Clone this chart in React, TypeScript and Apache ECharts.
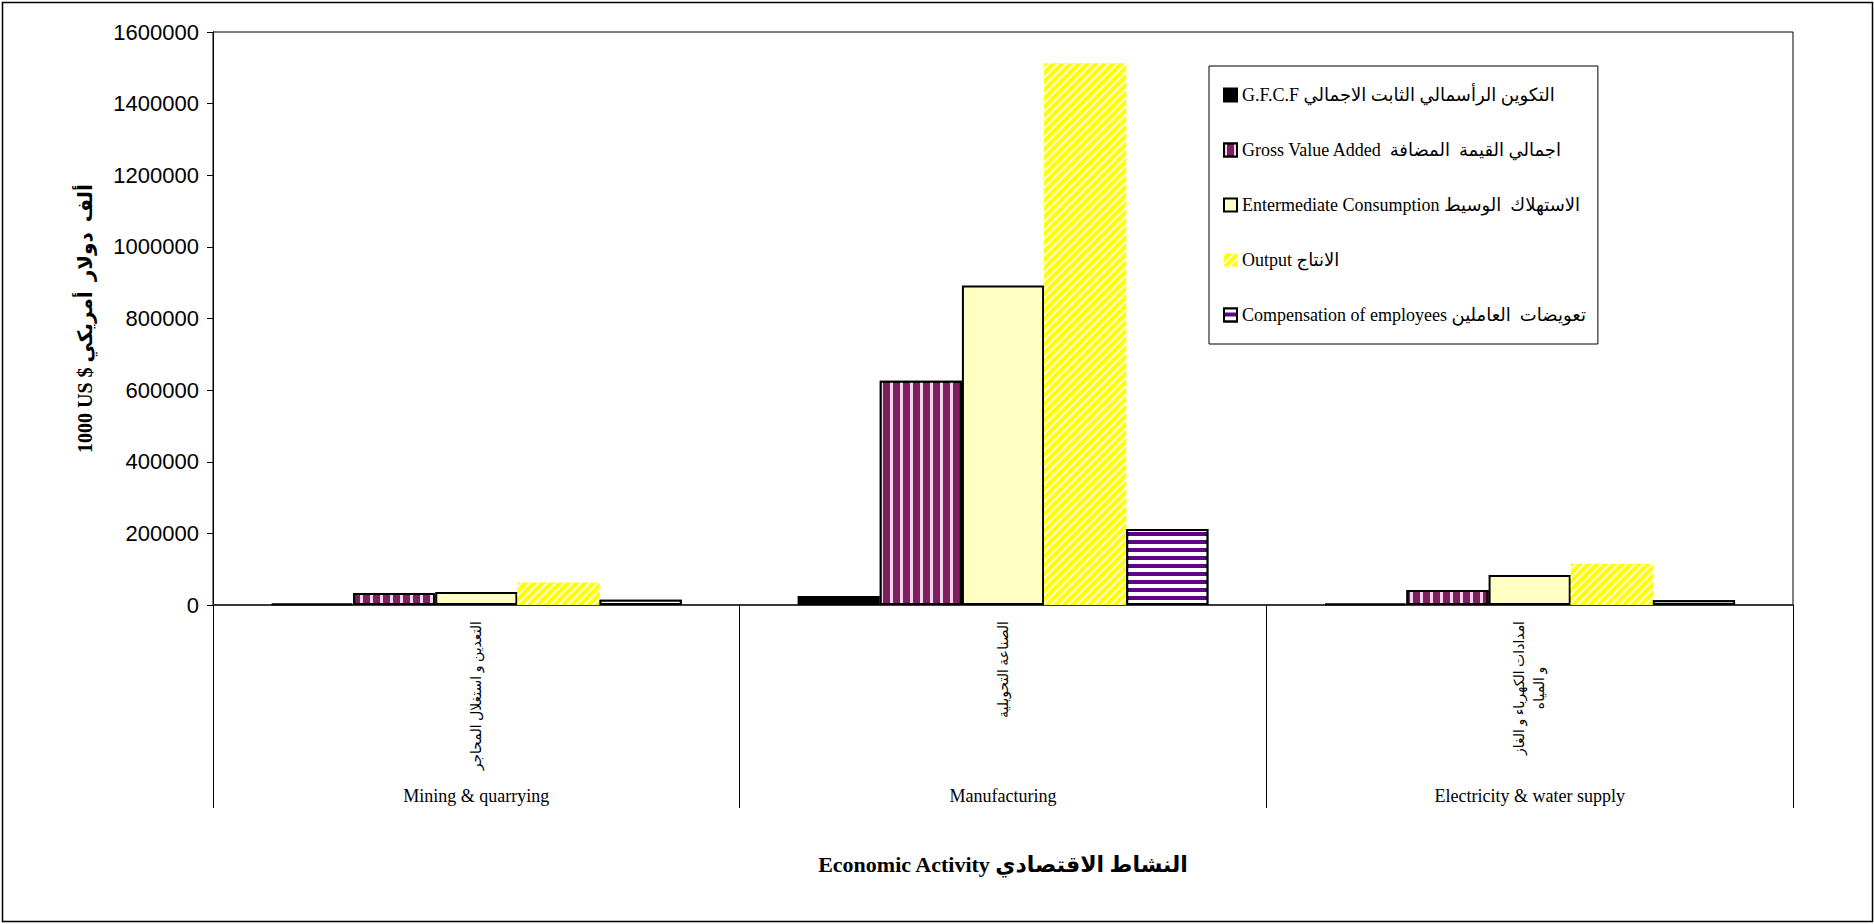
import React, { useEffect, useRef } from "react";
import * as echarts from "echarts";

const categoriesEn = ["Mining & quarrying", "Manufacturing", "Electricity & water supply"];
const categoriesAr = [
  "التعدين و استغلال المحاجر",
  "الصناعة التحويلية",
  "امدادات الكهرباء و الغاز\nو المياه",
];
const seriesNames = [
  "G.F.C.F التكوين الرأسمالي الثابت الاجمالي",
  "Gross Value Added  اجمالي القيمة  المضافة",
  "Entermediate Consumption الاستهلاك  الوسيط",
  "Output الانتاج",
  "Compensation of employees تعويضات  العاملين",
];
const gfcf = [4000, 25000, 4000];
const grossValueAdded = [33500, 626000, 42000];
const intermediate = [36000, 892000, 84000];
const output = [63000, 1513000, 115000];
const compensation = [15000, 212000, 13000];
const yMin = 0;
const yMax = 1600000;
const yInterval = 200000;
const yTitle = "1000 US $ ألف  دولار  أمريكي";
const xTitle = "Economic Activity النشاط الاقتصادي";

const SERIF = "'Liberation Serif', 'Times New Roman', 'DejaVu Sans', serif";
const SANS = "'Liberation Sans', Arial, sans-serif";

export default function App() {
  const ref = useRef<HTMLDivElement>(null);
  useEffect(() => {
    if (!ref.current) return;
    const chart = echarts.init(ref.current, null, { renderer: "svg" });
    const barBase = { type: "bar" as const, barGap: "0%", barCategoryGap: "22%", xAxisIndex: 0, yAxisIndex: 0 };
    chart.setOption({
      animation: false,
      backgroundColor: "#fff",
      grid: {
        left: 213,
        top: 32,
        right: 81,
        bottom: 319,
        show: true,
        borderColor: "#000",
        borderWidth: 1,
        backgroundColor: "transparent",
      },
      legend: {
        orient: "vertical",
        left: 1209,
        top: 66,
        backgroundColor: "#fff",
        borderColor: "#000",
        borderWidth: 1,
        padding: [20, 12, 20, 14],
        itemGap: 37,
        itemWidth: 13,
        itemHeight: 13,
        icon: "rect",
        textStyle: { fontFamily: SERIF, fontSize: 18, color: "#000" },
        data: seriesNames,
      },
      xAxis: [
        {
          type: "category",
          data: categoriesAr,
          position: "bottom",
          axisLine: { show: true, lineStyle: { color: "#222", width: 1.5 } },
          axisTick: { show: true, length: 203, lineStyle: { color: "#000", width: 1 } },
          axisLabel: {
            interval: 0,
            rotate: 90,
            margin: 16,
            color: "#000",
            fontFamily: SERIF,
            fontSize: 14,
            formatter: (v: string) => v.split("\n").map((l) => `{c|${l}}`).join("\n"),
            rich: {
              c: { align: "center", fontFamily: SERIF, fontSize: 14, color: "#000", lineHeight: 20 },
            },
          },
          splitLine: { show: false },
        },
        {
          type: "category",
          data: categoriesEn,
          position: "bottom",
          axisLine: { show: false },
          axisTick: { show: false },
          axisLabel: { interval: 0, margin: 182, color: "#000", fontFamily: SERIF, fontSize: 18 },
          name: xTitle,
          nameLocation: "middle",
          nameGap: 248,
          nameTextStyle: { fontFamily: SERIF, fontSize: 22, fontWeight: "bold", color: "#000" },
          splitLine: { show: false },
        },
      ],
      yAxis: {
        type: "value",
        min: yMin,
        max: yMax,
        interval: yInterval,
        axisLine: { show: true, lineStyle: { color: "#000", width: 1 } },
        axisTick: { show: true, length: 6, lineStyle: { color: "#000" } },
        axisLabel: {
          margin: 14,
          color: "#000",
          fontFamily: SANS,
          fontSize: 22,
          formatter: (v: number) => String(v),
        },
        splitLine: { show: false },
        name: yTitle,
        nameLocation: "middle",
        nameGap: 118,
        nameTextStyle: { fontFamily: SERIF, fontSize: 20, fontWeight: "bold", color: "#000" },
      },
      series: [
        {
          ...barBase,
          name: seriesNames[0],
          data: gfcf,
          itemStyle: { color: "#000", borderColor: "#000", borderWidth: 2 },
        },
        {
          ...barBase,
          name: seriesNames[1],
          data: grossValueAdded,
          itemStyle: {
            color: "#7F1F5F",
            borderColor: "#000",
            borderWidth: 2,
            decal: {
              symbol: "rect",
              symbolSize: 1,
              color: "#F3D6EC",
              dashArrayX: [3, 7],
              dashArrayY: [1, 0],
            },
          },
        },
        {
          ...barBase,
          name: seriesNames[2],
          data: intermediate,
          itemStyle: { color: "#FFFFC4", borderColor: "#000", borderWidth: 2 },
        },
        {
          ...barBase,
          name: seriesNames[3],
          data: output,
          itemStyle: {
            color: "#FFFF00",
            borderWidth: 0,
            decal: {
              symbol: "rect",
              symbolSize: 1,
              color: "rgba(255,255,255,0.85)",
              dashArrayX: [1, 0],
              dashArrayY: [2, 4],
              rotation: -Math.PI / 4,
            },
          },
        },
        {
          ...barBase,
          name: seriesNames[4],
          data: compensation,
          itemStyle: {
            color: "#5E0585",
            borderColor: "#000",
            borderWidth: 2,
            decal: {
              symbol: "rect",
              symbolSize: 1,
              color: "#FFFFFF",
              dashArrayX: [1, 0],
              dashArrayY: [4, 4],
            },
          },
        },
      ],
      graphic: [
        {
          type: "rect",
          left: 0,
          top: 0,
          z: -10,
          silent: true,
          shape: { x: 1, y: 2, width: 1870, height: 919 },
          style: { fill: "none", stroke: "#000", lineWidth: 1.5 },
        },
      ],
    });
    return () => chart.dispose();
  }, []);
  return (
    <div
      ref={ref}
      style={{ position: "fixed", left: 0, top: 0, width: 1874, height: 924, background: "#fff" }}
    />
  );
}
